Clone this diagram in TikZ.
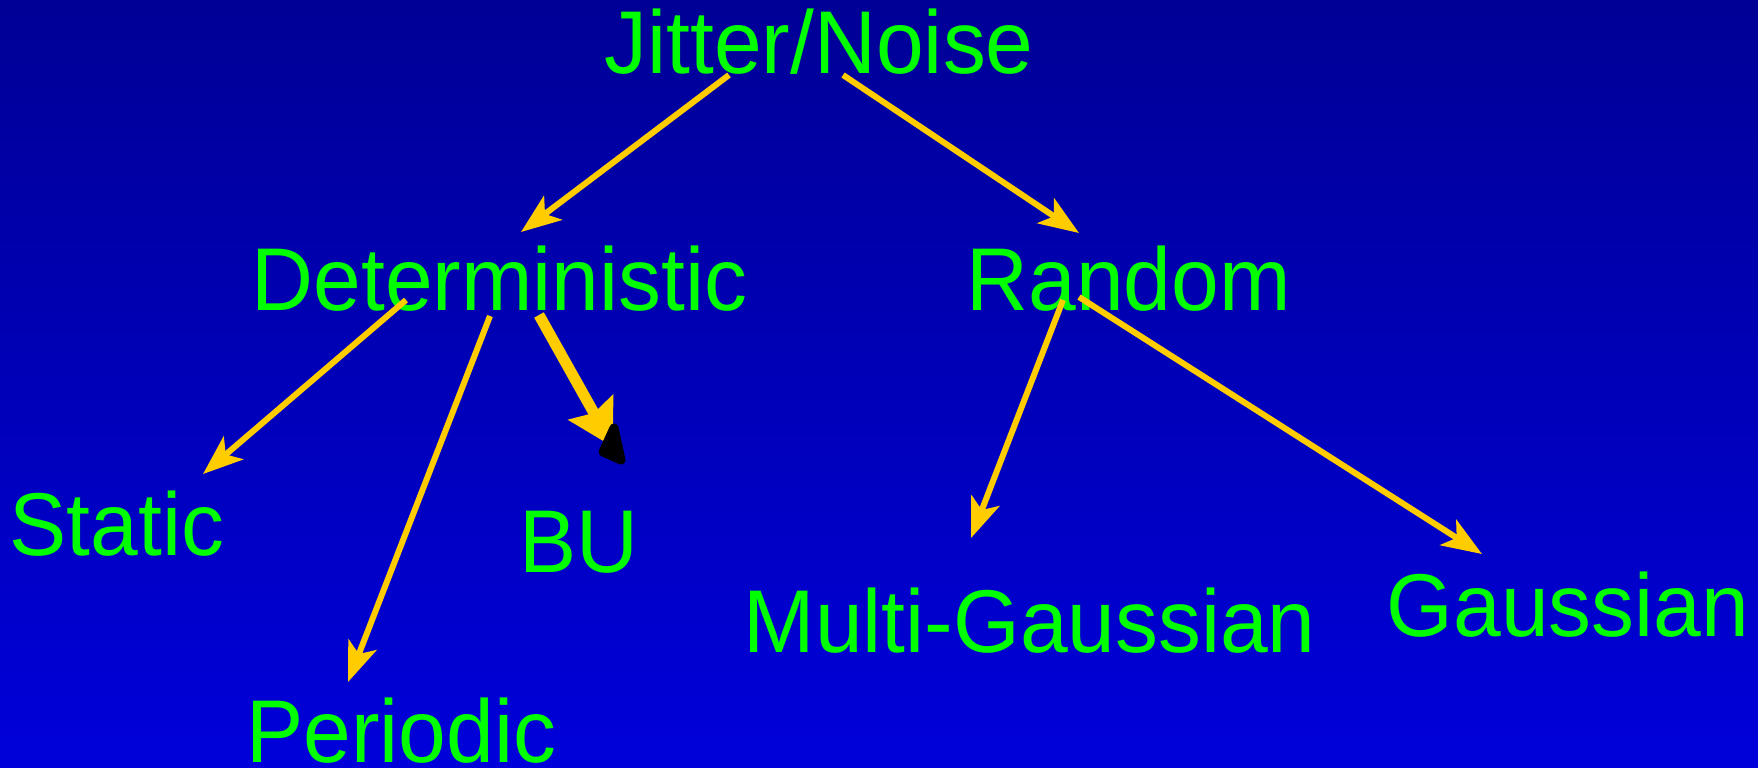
\documentclass[tikz,border=0pt]{standalone}
\usepackage{fontspec}
\setmainfont{Liberation Sans}
\usetikzlibrary{arrows.meta}
\definecolor{bgtop}{RGB}{0,0,150}
\definecolor{bgbot}{RGB}{0,0,218}
\definecolor{lime}{RGB}{0,255,0}
\definecolor{amber}{RGB}{255,204,0}
\newcommand{\tall}[1]{\scalebox{1}[1.04]{#1}}

\begin{document}
\begin{tikzpicture}[scale=1,
  lbl/.style={anchor=base west,inner sep=0pt,text=lime,font=\fontsize{24.4pt}{28pt}\selectfont},
  arr/.style={draw=amber,line width=0.06cm,-{Stealth[length=0.4cm,width=0.3cm,inset=0.1cm]}},
  fatarr/.style={draw=amber,line width=0.11cm,-{Stealth[length=0.45cm,width=0.5cm,inset=0.06cm]}}]
%-------->background<--------------
\useasboundingbox (0,0) rectangle (17.58,-7.67);
\shade[top color=bgtop,bottom color=bgbot] (0,0) rectangle (17.58,-7.67);
%-------->nodes<--------------
\node[lbl] (jn) at (6.04,-0.73) {\tall{Jitter/Noise}}; % top
\node[lbl] (det) at (2.51,-3.10) {\tall{Deterministic}}; % left
\node[lbl] (rnd) at (9.66,-3.10) {\tall{Random}}; % right
\node[lbl] (stat) at (0.09,-5.55) {\tall{Static}};
\node[lbl] (bu) at (5.19,-5.72) {\tall{BU}};
\node[lbl] (per) at (2.455,-7.62) {\tall{Periodic}};
\node[lbl] (mg) at (7.43,-6.52) {\tall{Multi-Gaussian}};
\node[lbl] (gau) at (13.86,-6.36) {\tall{Gaussian}};
%-------->arrow ends<--------------
\coordinate (jn-l) at (7.29,-0.75);
\coordinate (jn-r) at (8.43,-0.75);
\coordinate (det-in) at (5.21,-2.32);
\coordinate (rnd-in) at (10.79,-2.33);
\coordinate (det-a) at (4.06,-3.00);
\coordinate (det-b) at (4.90,-3.16);
\coordinate (det-c) at (5.39,-3.15);
\coordinate (stat-in) at (2.03,-4.74);
\coordinate (per-in) at (3.48,-6.82);
\coordinate (bu-in) at (6.13,-4.47);
\coordinate (rnd-a) at (10.63,-3.00);
\coordinate (rnd-b) at (10.79,-2.97);
\coordinate (mg-in) at (9.71,-5.38);
\coordinate (gau-in) at (14.82,-5.54);
%------------->top arrows<------------------
\draw[arr] (jn-l) -- (det-in);
\draw[arr] (jn-r) -- (rnd-in);
%------------->bottom arrows<------------------
\draw[arr] (det-a) -- (stat-in);
\draw[arr] (det-b) -- (per-in);
\draw[fatarr] (det-c) -- (bu-in);
\filldraw[black,line join=round,line width=0.09cm] (6.14,-4.28) -- (6.21,-4.60) -- (6.03,-4.52) -- cycle;
\draw[arr] (rnd-a) -- (mg-in);
\draw[arr] (rnd-b) -- (gau-in);
\end{tikzpicture}
\end{document}
